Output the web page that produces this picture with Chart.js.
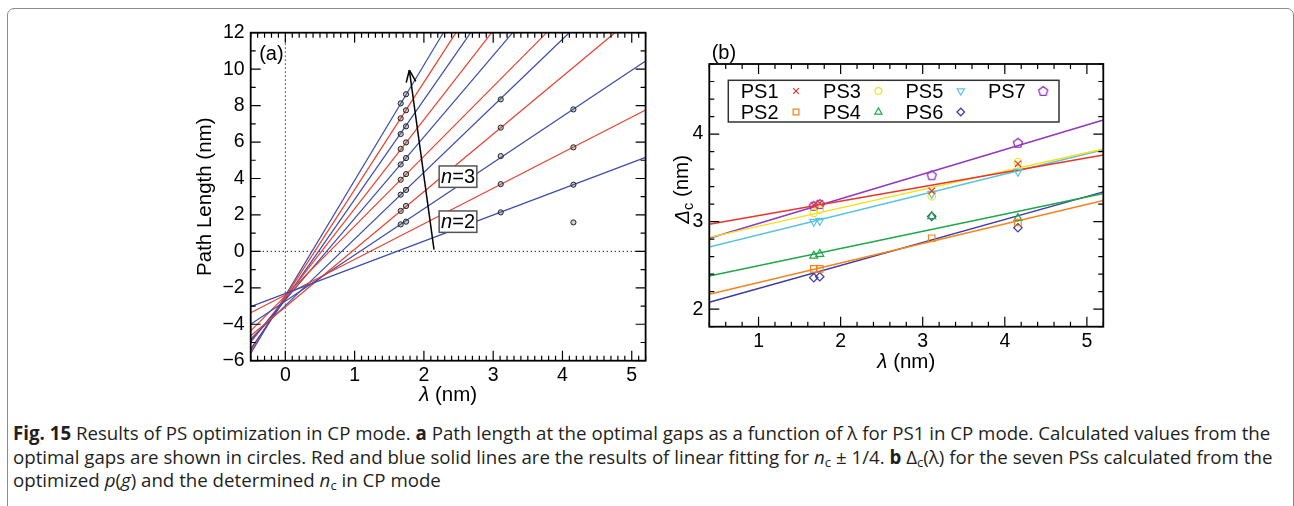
<!DOCTYPE html>
<html>
<head>
<meta charset="utf-8">
<script src="https://cdn.jsdelivr.net/npm/chart.js@4.4.0/dist/chart.umd.min.js"></script>
<style>
  body { margin: 0; background: #fff; width: 1294px; height: 506px; overflow: hidden; position: relative; }
  #frame { position: absolute; left: 7px; top: 8px; width: 1287px; height: 530px; border: 1.5px solid #8c8c8c; border-radius: 7px; box-sizing: border-box; }
  #chartA { position: absolute; left: 0; top: 0; }
  #chartB { position: absolute; left: 640px; top: 0; }
  #caption { position: absolute; left: 13px; top: 421px; font-family: "Open Sans", sans-serif; font-size: 18.7px; line-height: 23.5px; white-space: nowrap; color: #231f20; }
  #caption sub { font-size: 0.7em; vertical-align: -0.25em; line-height: 0; }
</style>
</head>
<body>
<div id="frame"></div>
<canvas id="chartA" width="680" height="410"></canvas>
<canvas id="chartB" width="654" height="410"></canvas>
<div id="caption">
<b>Fig. 15</b> Results of PS optimization in CP mode. <b>a</b> Path length at the optimal gaps as a function of λ for PS1 in CP mode. Calculated values from the<br>
optimal gaps are shown in circles. Red and blue solid lines are the results of linear fitting for <i>n</i><sub>c</sub> ± 1/4. <b>b</b> Δ<sub>c</sub>(λ) for the seven PSs calculated from the<br>
optimized <i>p</i>(<i>g</i>) and the determined <i>n</i><sub>c</sub> in CP mode
</div>
<script>
// ---- panel (a): path length vs lambda ----
const xTicksA = [0, 1, 2, 3, 4, 5];
const yTicksA = [-6, -4, -2, 0, 2, 4, 6, 8, 10, 12];
const colX = [1.665, 1.742, 3.109, 4.158];
const pathCol1 = [1.48, 2.22, 3.11, 3.93, 4.77, 5.62, 6.44, 7.30, 8.12];
const pathCol2 = [1.63, 2.49, 3.37, 4.24, 5.12, 5.98, 6.86, 7.74, 8.62];
const pathCol3 = [2.14, 3.69, 5.23, 6.79, 8.34];
const pathCol4 = [1.59, 3.66, 5.71, 7.79];
// fitted lines, start at lambda = -0.5
const fitStartY = [-3.03, -3.37, -4.0, -4.63, -4.80, -4.36, -4.90, -5.0, -5.35, -5.45, -5.6];
const fitEndX = [5.2, 5.2, 5.2, 4.758, 4.098, 3.772, 3.281, 2.978, 2.675, 2.463, 2.280];
const fitEndY = [5.16, 7.76, 10.45, 12, 12, 12, 12, 12, 12, 12, 12];
const arrowX = [2.146, 1.79];
const arrowY = [0.1, 9.95];

// ---- panel (b): Delta_c vs lambda ----
const xTicksB = [1, 2, 3, 4, 5];
const yTicksB = [2, 3, 4];
const psNames = ['PS1', 'PS2', 'PS3', 'PS4', 'PS5', 'PS6', 'PS7'];
const psX = [1.673, 1.746, 3.11, 4.16];
const ps1 = [3.19, 3.21, 3.35, 3.66];
const ps2 = [2.46, 2.46, 2.81, 2.99];
const ps3 = [3.10, 3.14, 3.29, 3.68];
const ps4 = [2.61, 2.63, 3.06, 3.04];
const ps5 = [3.00, 3.01, 3.32, 3.57];
const ps6 = [2.36, 2.37, 3.06, 2.93];
const ps7 = [3.18, 3.20, 3.53, 3.90];
const psFitLeft = [2.97, 2.17, 2.82, 2.38, 2.71, 2.08, 2.81];   // at lambda = 0.4
const psFitRight = [3.76, 3.24, 3.83, 3.32, 3.82, 3.34, 4.16];  // at lambda = 5.2

const FONT = '"Liberation Sans", Arial, sans-serif';
Chart.defaults.font.family = FONT;
Chart.defaults.font.size = 19.5;
Chart.defaults.color = '#000';
const TICK_FONT = { family: FONT, size: 19.5 };

const BLUE = '#3b4cab';
const RED = '#e8412f';

function fontFor(p, size) {
  const s = p.sub ? size * 0.7 : size;
  return (p.italic ? 'italic ' : '') + s + 'px ' + FONT;
}
function drawRich(ctx, parts, cx, cy, size) {
  let w = 0;
  parts.forEach(p => { ctx.font = fontFor(p, size); w += ctx.measureText(p.t).width; });
  let x = cx - w / 2;
  ctx.textAlign = 'left';
  ctx.textBaseline = 'middle';
  parts.forEach(p => {
    ctx.font = fontFor(p, size);
    ctx.fillText(p.t, x, cy + (p.sub ? size * 0.3 : 0));
    x += ctx.measureText(p.t).width;
  });
}

function frameTicks(minorX, minorY) {
  return {
    id: 'frameTicks',
    afterDatasetsDraw(chart) {
      const { ctx, chartArea: a, scales: { x, y } } = chart;
      const isMajor = (s, v) => s.ticks.some(t => Math.abs(t.value - v) < 1e-6);
      ctx.save();
      ctx.strokeStyle = '#000';
      ctx.lineWidth = 1.2;
      ctx.beginPath();
      for (let k = Math.ceil(x.min / minorX - 1e-6); k * minorX <= x.max + 1e-6; k++) {
        const v = k * minorX, px = x.getPixelForValue(v), len = isMajor(x, v) ? 10 : 5;
        ctx.moveTo(px, a.bottom); ctx.lineTo(px, a.bottom - len);
        ctx.moveTo(px, a.top); ctx.lineTo(px, a.top + len);
      }
      for (let k = Math.ceil(y.min / minorY - 1e-6); k * minorY <= y.max + 1e-6; k++) {
        const v = k * minorY, py = y.getPixelForValue(v), len = isMajor(y, v) ? 10 : 5;
        ctx.moveTo(a.left, py); ctx.lineTo(a.left + len, py);
        ctx.moveTo(a.right, py); ctx.lineTo(a.right - len, py);
      }
      ctx.stroke();
      ctx.lineWidth = 1.8;
      ctx.strokeRect(a.left, a.top, a.right - a.left, a.bottom - a.top);
      ctx.restore();
    }
  };
}

const minusFmt = v => (v < 0 ? '\u2212' : '') + Math.abs(v);

// ---------- chart A ----------
const dsA = [];
const circleStyle = { showLine: false, pointRadius: 2.6, pointBorderWidth: 1, borderColor: '#222', backgroundColor: 'rgba(110,110,110,0.35)' };
[pathCol1, pathCol2, pathCol3, pathCol4].forEach((col, i) => {
  dsA.push(Object.assign({ data: col.map(v => ({ x: colX[i], y: v })) }, circleStyle));
});
dsA.push({ data: arrowX.map((v, i) => ({ x: v, y: arrowY[i] })), showLine: true, borderColor: '#000', borderWidth: 1.5, pointRadius: 0 });
fitStartY.forEach((v, i) => {
  dsA.push({
    data: [{ x: -0.5, y: v }, { x: fitEndX[i], y: fitEndY[i] }],
    showLine: true, pointRadius: 0, borderWidth: 1.2,
    borderColor: i % 2 === 0 ? BLUE : RED
  });
});
dsA.push({ data: [{ x: 0, y: -6 }, { x: 0, y: 12 }], showLine: true, pointRadius: 0, borderColor: '#000', borderWidth: 1, borderDash: [1.2, 2.8] });
dsA.push({ data: [{ x: -0.5, y: 0 }, { x: 5.2, y: 0 }], showLine: true, pointRadius: 0, borderColor: '#000', borderWidth: 1, borderDash: [1.2, 2.8] });

const decorA = {
  id: 'decorA',
  afterDatasetsDraw(chart) {
    const { ctx, chartArea: a, scales: { x, y } } = chart;
    ctx.save();
    ctx.fillStyle = '#000';
    // arrow head
    const tx = x.getPixelForValue(arrowX[1]), ty = y.getPixelForValue(arrowY[1]);
    const bx = x.getPixelForValue(arrowX[0]), by = y.getPixelForValue(arrowY[0]);
    const ang = Math.atan2(ty - by, tx - bx);
    ctx.strokeStyle = '#000';
    ctx.lineWidth = 1.5;
    ctx.beginPath();
    [0.38, -0.38].forEach(d => {
      ctx.moveTo(tx, ty);
      ctx.lineTo(tx - 13 * Math.cos(ang + d), ty - 13 * Math.sin(ang + d));
    });
    ctx.stroke();
    // n=3 / n=2 boxes
    [['3', 4.1], ['2', 1.63]].forEach(([lab, yv]) => {
      const left = x.getPixelForValue(2.22), cy = y.getPixelForValue(yv);
      ctx.fillStyle = '#fff';
      ctx.strokeStyle = '#555';
      ctx.lineWidth = 1.5;
      ctx.fillRect(left, cy - 10.7, 37.7, 21.4);
      ctx.strokeRect(left, cy - 10.7, 37.7, 21.4);
      ctx.fillStyle = '#000';
      drawRich(ctx, [{ t: 'n', italic: true }, { t: '=' + lab }], left + 18.9, cy + 1, 20);
    });
    // panel label and axis titles
    ctx.font = '20px ' + FONT;
    ctx.textAlign = 'left';
    ctx.textBaseline = 'middle';
    ctx.fillText('(a)', a.left + 8.5, a.top + 21.5);
    drawRich(ctx, [{ t: '\u03bb', italic: true }, { t: ' (nm)' }], (a.left + a.right) / 2, a.bottom + 34.3, 20.5);
    ctx.translate(a.left - 45.7, (a.top + a.bottom) / 2);
    ctx.rotate(-Math.PI / 2);
    drawRich(ctx, [{ t: 'Path Length (nm)' }], 0, 0, 20.5);
    ctx.restore();
  }
};

new Chart(document.getElementById('chartA'), {
  type: 'scatter',
  data: { datasets: dsA },
  options: {
    responsive: false,
    animation: false,
    events: [],
    layout: { padding: { left: 0, top: 32.7, right: 34.4, bottom: 0 } },
    plugins: { legend: { display: false }, tooltip: { enabled: false } },
    scales: {
      x: {
        type: 'linear', min: -0.5, max: 5.2,
        grid: { display: false, drawTicks: false }, border: { display: false },
        afterBuildTicks: s => { s.ticks = xTicksA.map(v => ({ value: v })); },
        afterFit: s => { s.height = 49.3; },
        ticks: { padding: 3, autoSkip: false, maxRotation: 0, font: TICK_FONT, color: '#000', callback: minusFmt }
      },
      y: {
        type: 'linear', min: -6, max: 12,
        grid: { display: false, drawTicks: false }, border: { display: false },
        afterBuildTicks: s => { s.ticks = yTicksA.map(v => ({ value: v })); },
        afterFit: s => { s.width = 250.7; },
        ticks: { padding: 6, autoSkip: false, font: TICK_FONT, color: '#000', callback: minusFmt }
      }
    }
  },
  plugins: [frameTicks(0.1, 1), decorA]
});

// ---------- chart B ----------
function pentagon(color) {
  const c = document.createElement('canvas');
  c.width = 14; c.height = 14;
  const g = c.getContext('2d');
  g.strokeStyle = color;
  g.lineWidth = 1.3;
  g.beginPath();
  for (let k = 0; k < 5; k++) {
    const t = -Math.PI / 2 + k * 2 * Math.PI / 5;
    const px = 7 + 4.8 * Math.cos(t), py = 7.4 + 4.8 * Math.sin(t);
    k === 0 ? g.moveTo(px, py) : g.lineTo(px, py);
  }
  g.closePath();
  g.stroke();
  return c;
}
const psColors = ['#e8362c', '#f5841f', '#f2e21c', '#1fa84a', '#5ac3e3', '#3d3ca6', '#9137c2'];
const psStyles = ['crossRot', 'rect', 'circle', 'triangle', 'triangle', 'rectRot', pentagon('#9137c2')];
const psRotation = [0, 0, 0, 0, 180, 0, 0];
const psRadius = [4.5, 4.6, 3.8, 4.6, 4.6, 4.2, 5];
const psValues = [ps1, ps2, ps3, ps4, ps5, ps6, ps7];

const dsB = [];
psValues.forEach((vals, i) => {
  dsB.push({
    label: psNames[i],
    data: vals.map((v, j) => ({ x: psX[j], y: v })),
    showLine: false,
    pointStyle: psStyles[i], rotation: psRotation[i], pointRadius: psRadius[i],
    pointBorderWidth: 1.2, borderColor: psColors[i], backgroundColor: 'rgba(0,0,0,0)'
  });
});
psFitLeft.forEach((v, i) => {
  dsB.push({
    data: [{ x: 0.4, y: v }, { x: 5.2, y: psFitRight[i] }],
    showLine: true, pointRadius: 0, borderWidth: 1.5, borderColor: psColors[i]
  });
});

const decorB = {
  id: 'decorB',
  afterDatasetsDraw(chart) {
    const { ctx, chartArea: a } = chart;
    ctx.save();
    // legend box
    const bl = a.left + 19, bt = a.top + 16.3;
    ctx.fillStyle = '#fff';
    ctx.fillRect(bl, bt, 330.7, 41.7);
    ctx.strokeStyle = '#333';
    ctx.lineWidth = 1.5;
    ctx.strokeRect(bl, bt, 330.7, 41.7);
    psNames.forEach((name, i) => {
      const col = Math.floor(i / 2), row = i % 2;
      const ty = bt + 10.7 + row * 21;
      ctx.fillStyle = '#000';
      ctx.font = '20px ' + FONT;
      ctx.textAlign = 'left';
      ctx.textBaseline = 'middle';
      ctx.fillText(name, bl + 12.4 + col * 82.4, ty + 1);
      ctx.strokeStyle = psColors[i];
      ctx.fillStyle = 'rgba(0,0,0,0)';
      ctx.lineWidth = 1.2;
      Chart.helpers.drawPoint(ctx, {
        pointStyle: psStyles[i], rotation: psRotation[i], radius: psRadius[i] * 0.9, borderWidth: 1.2
      }, bl + 67.7 + col * 82.4, ty);
    });
    // labels and axis titles
    ctx.fillStyle = '#000';
    ctx.font = '20px ' + FONT;
    ctx.textAlign = 'left';
    ctx.textBaseline = 'middle';
    ctx.fillText('(b)', a.left + 2.4, a.top - 10.7);
    drawRich(ctx, [{ t: '\u03bb', italic: true }, { t: ' (nm)' }], (a.left + a.right) / 2, a.bottom + 35.8, 20.5);
    ctx.translate(a.left - 26.5, (a.top + a.bottom) / 2 - 6);
    ctx.rotate(-Math.PI / 2);
    drawRich(ctx, [{ t: '\u0394', italic: true }, { t: 'c', sub: true }, { t: ' (nm)' }], 0, 0, 20.5);
    ctx.restore();
  }
};

new Chart(document.getElementById('chartB'), {
  type: 'scatter',
  data: { datasets: dsB },
  options: {
    responsive: false,
    animation: false,
    events: [],
    layout: { padding: { left: 0, top: 64, right: 190.7, bottom: 0 } },
    plugins: { legend: { display: false }, tooltip: { enabled: false } },
    scales: {
      x: {
        type: 'linear', min: 0.4, max: 5.2,
        grid: { display: false, drawTicks: false }, border: { display: false },
        afterBuildTicks: s => { s.ticks = xTicksB.map(v => ({ value: v })); },
        afterFit: s => { s.height = 83.3; },
        ticks: { padding: 3, autoSkip: false, maxRotation: 0, font: TICK_FONT, color: '#000', callback: minusFmt }
      },
      y: {
        type: 'linear', min: 1.8, max: 4.8,
        grid: { display: false, drawTicks: false }, border: { display: false },
        afterBuildTicks: s => { s.ticks = yTicksB.map(v => ({ value: v })); },
        afterFit: s => { s.width = 69.3; },
        ticks: { padding: 6, autoSkip: false, font: TICK_FONT, color: '#000', callback: minusFmt }
      }
    }
  },
  plugins: [frameTicks(0.2, 0.2), decorB]
});
</script>
</body>
</html>
